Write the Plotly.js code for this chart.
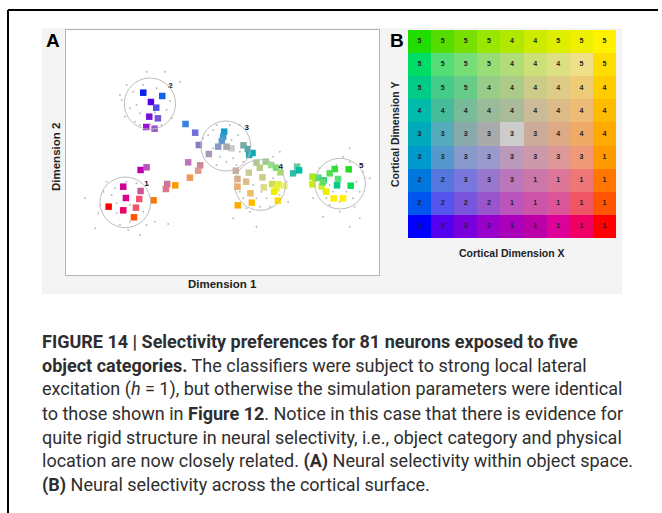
<!DOCTYPE html>
<html><head><meta charset="utf-8">
<script src="https://cdn.plot.ly/plotly-3.0.1.min.js"></script>
<style>html,body{margin:0;padding:0;background:#fff}#chart{width:662px;height:513px}</style>
</head><body><div id="chart"></div>
<script>
// ---------- Panel A: neuron selectivity in object space (arbitrary units) ----------
const neuronX = [23.2,28.9,25.5,27.1,25.0,27.6,24.1,26.6,35.9,38.8,39.9,42.9,
  47.5,47.2,46.8,45.7,49.7,53.3,54.6,56.0,55.0,
  12.8,17.2,22.4,18.0,22.0,17.2,21.0,20.4,26.3,22.4,24.2,30.4,30.0,32.8,36.7,40.3,39.7,37.2,
  51.0,51.5,51.5,51.6,54.9,54.1,55.4,55.8,57.2,60.0,61.6,63.1,64.4,59.0,59.4,61.9,63.8,63.2,62.5,65.6,63.6,
  69.4,68.2,70.0,
  74.0,74.8,74.0,75.8,77.4,76.8,78.2,80.7,84.9,79.2,81.7,81.4,85.5,80.4,83.2,
  48.2,58.2,77.1];
const neuronY = [54.7,53.7,51.9,50.2,47.5,47.0,44.4,43.9,45.3,42.7,39.0,36.3,
  43.0,41.5,40.2,38.5,38.0,38.9,37.8,36.6,36.0,
  20.5,26.5,25.2,23.1,22.8,19.4,20.2,17.3,22.4,31.5,32.3,27.3,25.8,26.9,33.8,32.9,31.3,29.2,
  31.3,28.8,26.5,20.9,30.7,28.0,24.5,21.7,33.7,34.0,33.0,32.2,30.8,29.3,26.3,27.3,27.2,26.0,25.0,26.7,22.3,
  32.5,30.5,31.4,
  29.5,29.0,27.2,29.2,28.4,26.5,25.0,31.8,31.7,30.5,28.8,26.9,26.8,23.0,23.0,
  38.5,32.2,27.8];
// marker colours (style)
const neuronColor = ['#0a1ef0','#1060f0','#5a00e8','#5050e8','#7a10d8','#7a55d8','#9a10cc','#9a55cc','#3a80e0','#7070dd','#8a78c8','#a898b8',
  '#1099cc','#3a9acc','#5a99cc','#8a99cc','#cccccc','#80aaaa','#50aab0','#00aabb','#30a8b0',
  '#ff0000','#cc0099','#cc5599','#dd0088','#ee5577','#ee0066','#ee5566','#ff5500','#ff7700','#bb00aa','#bb55bb','#cc7799','#dd7788','#ff9900','#bb77bb','#cc8899','#dd9988','#ee9955',
  '#ccaa99','#ddaa88','#eeaa66','#ffaa00','#cccc99','#ddbb88','#eebb66','#ffbb00','#aacc88','#99cc88','#99dd88','#77dd77','#aadd66','#cccc88','#dddd88','#ccdd55','#ddee44','#eeee33','#eeee00','#eeee88','#ffdd00',
  '#66cc99','#33bbaa','#00bbaa',
  '#99ee33','#aaee00','#ccee00','#55dd77','#33cc88','#ccee33','#eeee00','#33dd33','#22dd22','#55dd55','#55dd77','#00cc88','#00dd55','#ffee00','#ffee00',
  '#aaaaaa','#bbcc88','#66dd66'];
// stimulus samples (small grey dots)
const sampleX = [24.2,29.7,16.2,16.7,19.2,21.2,22.2,17.7,20.7,22.2,25.2,26.7,30.2,31.2,31.7,34.2,28.7,23.2,27.2,20.2,18.2,
  5.7,8.7,9.7,11.2,13.7,14.7,15.2,16.2,18.7,19.2,22.2,23.2,24.2,26.7,30.7,12.2,18.2,21.2,19.2,24.7,15.2,10.2,
  41.2,42.7,44.2,45.2,49.2,51.7,52.2,50.2,48.2,46.2,44.2,52.2,53.2,45.2,49.7,
  51.2,52.2,53.2,54.2,56.2,57.2,58.2,60.2,62.2,64.2,66.2,64.2,62.2,57.2,55.2,50.2,66.7,61.2,58.7,
  76.2,77.2,78.2,79.2,80.2,81.2,82.2,84.2,85.2,86.2,87.2,88.2,89.2,89.7,85.2,88.2,85.2,77.2,74.2,91.2,83.2,86.7,82.2,79.2];
const sampleY = [61.0,61.0,54.0,52.5,50.0,51.0,48.5,47.5,46.0,45.0,45.2,48.8,49.5,52.2,47.0,58.0,45.0,57.0,56.0,55.0,57.0,
  23.0,14.0,18.5,25.0,24.0,26.0,18.5,15.0,13.5,16.0,12.0,19.0,15.0,16.0,15.3,28.0,28.0,27.5,21.0,27.0,21.5,21.0,
  41.0,42.0,43.5,45.0,45.0,42.0,37.0,35.0,34.0,35.5,38.0,45.0,34.0,33.0,40.5,
  33.0,25.0,23.0,20.0,27.0,23.0,20.5,23.0,29.0,24.0,28.0,37.0,35.5,14.5,19.0,17.0,22.0,20.5,25.0,
  32.0,25.0,23.0,21.0,25.0,33.0,19.0,25.0,34.0,23.0,28.0,25.0,31.0,29.0,38.0,17.0,14.5,17.5,23.0,29.0,35.5,20.5,22.0,27.0];
// object categories
const categoryLabels = ['1','2','3','4','5'];
const categoryCX = [17.8,25.2,48.0,58.3,82.3];
const categoryCY = [21.8,51.4,38.7,27.0,27.4];
const categoryR  = [7.6,7.7,7.5,7.6,7.6];
const labelX = [24.2,31.4,54.3,64.5,88.7];
const labelY = [27.4,56.7,44.0,32.3,32.7];

// ---------- Panel B: preferred category across the cortical surface (top row first) ----------
const cortexCategory = [
  [5,5,5,5,4,4,5,5,5],
  [5,5,5,5,4,4,4,5,5],
  [5,5,5,4,4,4,4,4,4],
  [4,4,4,4,4,4,4,4,4],
  [3,3,3,3,3,3,4,4,4],
  [3,3,3,3,3,3,3,3,1],
  [2,2,3,3,3,1,1,1,1],
  [2,2,2,2,1,1,1,1,1],
  [2,2,2,2,1,1,1,1,1]];
// cell colours (style)
const cellColor = [
  ['#22dd00','#55dd00','#77e000','#99e600','#b0e800','#cceb00','#ddee00','#eef000','#fff200'],
  ['#00dd66','#55dd77','#77dd77','#99dd77','#b0dd77','#cce077','#dde080','#eee088','#ffdd00'],
  ['#00cc88','#44cc88','#66cc88','#99cc88','#aacc88','#cccc88','#ddcc88','#eecc77','#ffcc00'],
  ['#00bbaa','#44bb99','#77bb99','#99bb99','#aabb99','#ccbb99','#ddbb88','#eebb77','#ffbb00'],
  ['#00aabb','#55aabb','#88aaaa','#aaaaaa','#cccccc','#ccaa99','#ddaa88','#eeaa66','#ffaa00'],
  ['#0099cc','#5599cc','#8899cc','#9999cc','#bb99bb','#cc99aa','#dd9999','#ee9977','#ff9900'],
  ['#0077dd','#5577dd','#7777dd','#9977cc','#bb77bb','#cc77aa','#dd7799','#ee7777','#ff7700'],
  ['#0055ee','#5555ee','#7755dd','#9955cc','#bb55bb','#cc55aa','#dd5599','#ee5566','#ff5500'],
  ['#0000ff','#5500ee','#7700dd','#9900cc','#aa00bb','#bb00aa','#dd0099','#ee0066','#ff0000']];

const captionLines = [
  '<b>FIGURE 14 | Selectivity preferences for 81 neurons exposed to five</b>',
  '<b>object categories.</b> The classifiers were subject to strong local lateral',
  'excitation (<i>h</i> = 1), but otherwise the simulation parameters were identical',
  'to those shown in <b>Figure 12</b>. Notice in this case that there is evidence for',
  'quite rigid structure in neural selectivity, i.e., object category and physical',
  'location are now closely related. <b>(A)</b> Neural selectivity within object space.',
  '<b>(B)</b> Neural selectivity across the cortical surface.'];

// ---------- build ----------
const W = 662, H = 513;
const px = v => v / W, py = v => 1 - v / H;
const hex2rgb = h => [parseInt(h.slice(1,3),16), parseInt(h.slice(3,5),16), parseInt(h.slice(5,7),16)];
const nRows = cortexCategory.length, nCols = cortexCategory[0].length;
const cellX = [], cellY = [], cellT = [];
for (let r = 0; r < nRows; r++) for (let c = 0; c < nCols; c++) {
  cellX.push(c); cellY.push(r); cellT.push(String(cortexCategory[r][c]));
}

const traces = [
  {type:'scatter', mode:'markers', x:sampleX, y:sampleY, xaxis:'x', yaxis:'y',
   marker:{size:2, color:'#bcbcbc'}, hoverinfo:'skip'},
  {type:'scatter', mode:'markers', x:neuronX, y:neuronY, xaxis:'x', yaxis:'y',
   marker:{symbol:'square', size:6.5, color:neuronColor, line:{width:0}}},
  {type:'scatter', mode:'text', x:labelX, y:labelY, text:categoryLabels.map(s=>'<b>'+s+'</b>'), xaxis:'x', yaxis:'y',
   textfont:{family:'Liberation Sans, Arial, sans-serif', size:8, color:'#111'}},
  {type:'image', z:cellColor.map(row=>row.map(hex2rgb)), x0:0, dx:1, y0:0, dy:1, xaxis:'x2', yaxis:'y2', hoverinfo:'skip'},
  {type:'scatter', mode:'text', x:cellX, y:cellY, text:cellT.map(s=>'<b>'+s+'</b>'), xaxis:'x2', yaxis:'y2',
   textfont:{family:'Liberation Sans, Arial, sans-serif', size:7, color:'#222'}}
];

const shapes = [
  {type:'rect', xref:'paper', yref:'paper', x0:px(42), x1:px(622), y0:py(294), y1:py(28), fillcolor:'#f4f4f4', line:{width:0}, layer:'below'},
  {type:'rect', xref:'paper', yref:'paper', x0:px(66), x1:px(379), y0:py(275), y1:py(30), fillcolor:'#ffffff', line:{width:0}, layer:'below'},
  {type:'line', xref:'paper', yref:'paper', x0:px(8), x1:px(658), y0:py(10), y1:py(10), line:{color:'#000', width:2}},
  {type:'line', xref:'paper', yref:'paper', x0:px(8), x1:px(8), y0:py(10), y1:py(513), line:{color:'#000', width:2}}
];
categoryCX.forEach((cx,i)=>{
  shapes.push({type:'circle', xref:'x', yref:'y', x0:cx-categoryR[i], x1:cx+categoryR[i],
    y0:categoryCY[i]-categoryR[i], y1:categoryCY[i]+categoryR[i], line:{color:'#bdbdbd', width:1}});
});

const bold = 'Liberation Sans, Arial, sans-serif';
const capFont = 'Roboto, Liberation Sans, sans-serif';
const annotations = [
  {text:'<b>A</b>', x:px(53), y:py(40), font:{family:bold, size:19, color:'#000'}},
  {text:'<b>B</b>', x:px(397), y:py(40), font:{family:bold, size:19, color:'#000'}},
  {text:'<b>Dimension 1</b>', x:px(222), y:py(284), font:{family:bold, size:11.5, color:'#222'}},
  {text:'<b>Dimension 2</b>', x:px(56), y:py(157), textangle:-90, font:{family:bold, size:11.5, color:'#222'}},
  {text:'<b>Cortical Dimension X</b>', x:px(512), y:py(253), font:{family:bold, size:10.5, color:'#222'}},
  {text:'<b>Cortical Dimension Y</b>', x:px(395), y:py(135), textangle:-90, font:{family:bold, size:10.5, color:'#222'}}
].map(a=>Object.assign({xref:'paper', yref:'paper', showarrow:false, xanchor:'center', yanchor:'middle'}, a));
captionLines.forEach((t,i)=>{
  annotations.push({text:t, xref:'paper', yref:'paper', x:px(40), y:py(341 + i*24), xanchor:'left', yanchor:'middle',
    showarrow:false, font:{family:capFont, size:18, color:'#2e2e2e'}});
});

const hidden = {showgrid:false, zeroline:false, showticklabels:false, ticks:''};
const layout = {
  width:W, height:H, margin:{l:0,r:0,t:0,b:0}, paper_bgcolor:'#fff', plot_bgcolor:'#fff',
  showlegend:false, hovermode:false,
  xaxis:Object.assign({domain:[px(66), px(379)], range:[0,94], showline:true, mirror:true, linecolor:'#b4b4b4', linewidth:1}, hidden),
  yaxis:Object.assign({domain:[py(275), py(30)], range:[0,73.5], showline:true, mirror:true, linecolor:'#b4b4b4', linewidth:1}, hidden),
  xaxis2:Object.assign({domain:[px(408), px(616)], range:[-0.5,8.5], anchor:'y2', showline:false}, hidden),
  yaxis2:Object.assign({domain:[py(238), py(30)], range:[8.5,-0.5], anchor:'x2', showline:false}, hidden),
  shapes:shapes, annotations:annotations
};
Plotly.newPlot('chart', traces, layout, {staticPlot:true, displayModeBar:false});
</script></body></html>
